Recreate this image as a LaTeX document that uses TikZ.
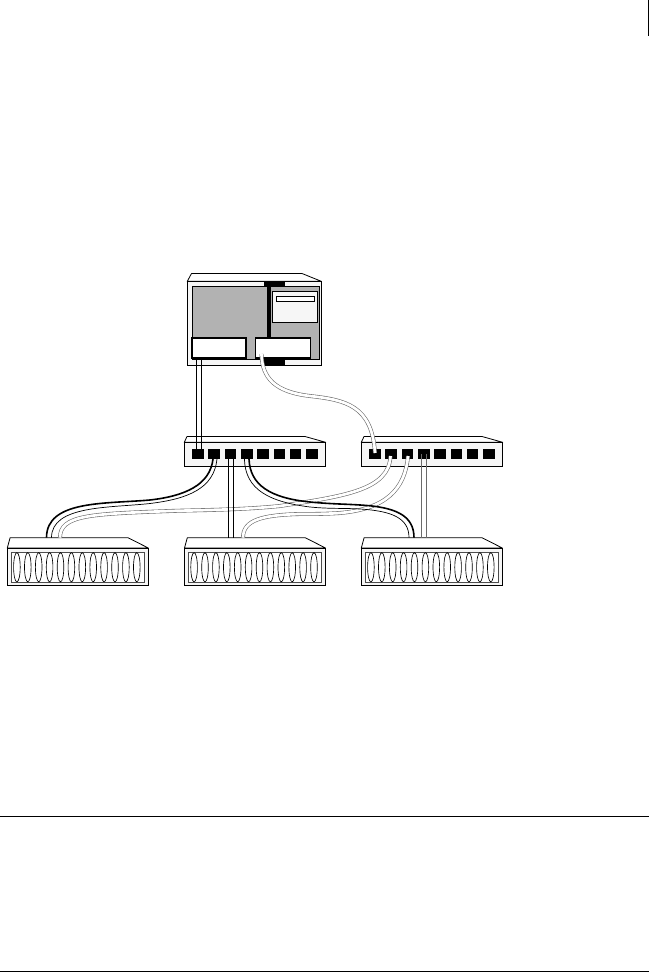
\documentclass[tikz,border=0pt]{standalone}
\definecolor{face}{gray}{0.965}
\definecolor{panel}{gray}{0.70}
\definecolor{cablegray}{gray}{0.42}
\tikzset{
  devicebox/.style={draw=black,fill=face,line width=0.8pt,rectangle,inner sep=0pt,outer sep=0pt,anchor=north west},
  blackbox/.style={fill=black,draw=none,rectangle,inner sep=0pt,outer sep=0pt,anchor=north west},
  whitebox/.style={draw=black,fill=white,line width=1.6pt,rectangle,inner sep=0pt,outer sep=0pt,anchor=north west},
  lid/.style={draw=black,fill=white,line width=0.8pt,line join=round},
  thinblack/.style={draw=black,line width=0.7pt},
  thickblack/.style={draw=black,line width=1.6pt},
  graycable/.style={draw=cablegray,line width=0.6pt,double=white,double distance=2.7pt},
  graypair/.style={draw=cablegray,line width=0.7pt},
  rule/.style={draw=black,line width=0.7pt}
}
% switch: name, left x, top y of the face
\newcommand{\myswitch}[3]{%
  \draw[lid] (#2,#3) -- (#2+2.7,#3-5.8) -- (#2+120.7,#3-5.8) -- (#2+141.4,#3) -- cycle;
  \node[devicebox,minimum width=141.4pt,minimum height=24pt] (#1) at (#2,#3) {};
  \foreach \n/\a/\b in {1/7.7/12,2/23.7/12,3/40.7/11,4/56.7/12,5/72.7/12,6/89.7/11,7/105.7/11,8/121.7/12}
    \node[blackbox,minimum width=\b pt,minimum height=10pt] (#1p\n) at (#2+\a,#3+6.7) {};
}
% disk array: name, left x, top y of the face
\newcommand{\myarray}[3]{%
  \draw[lid] (#2,#3) -- (#2+2.8,#3-10.3) -- (#2+120.7,#3-10.3) -- (#2+141,#3) -- cycle;
  \node[devicebox,fill=face,minimum width=141pt,minimum height=37pt] (#1) at (#2,#3) {};
  \draw[black!70,fill=white,line width=0.5pt] (#2+4.2,#3+4.5) rectangle (#2+136.5,#3+34);
  \foreach \i in {0,...,11}{
    \pgfmathsetmacro{\xa}{#2+9.6+10.9*\i}
    \draw[black,line width=0.65pt] (\xa,#3+19.25) ellipse [x radius=3.3,y radius=14.6];
  }
}
\begin{document}
\begin{tikzpicture}[x=1pt,y=-1pt]
\useasboundingbox (0,0) rectangle (649,973);
% host
\draw[lid] (187.3,281.3) -- (191.5,273.5) -- (302,273.5) -- (321.3,281.3) -- cycle;
\node[devicebox,minimum width=134pt,minimum height=84pt] (host) at (187.3,281.3) {};
\node[devicebox,fill=panel,line width=0.6pt,minimum width=127pt,minimum height=72.3pt] (panel) at (192.3,286.7) {};
\node[blackbox,minimum width=21pt,minimum height=5.6pt] (topbar) at (264,281.2) {};
\node[blackbox,minimum width=21pt,minimum height=6pt] (botbar) at (264,359) {};
\node[blackbox,minimum width=4pt,minimum height=52pt] (spine) at (267,286) {};
\node[devicebox,minimum width=45.5pt,minimum height=31pt] (card) at (272,291.5) {};
\node[devicebox,fill=white,minimum width=37.7pt,minimum height=5.2pt] (slot) at (276.3,296.3) {};
\node[whitebox,minimum width=54.3pt,minimum height=20.5pt] (hbaa) at (191.7,337.7) {};
\node[whitebox,minimum width=55.2pt,minimum height=20.5pt] (hbab) at (255.3,337.7) {};
% devices
\myswitch{swa}{184.3}{442.3}
\myswitch{swb}{361.3}{442.3}
\myarray{arra}{7.3}{548}
\myarray{arrb}{184.5}{548}
\myarray{arrc}{361.3}{548}
% anchors for cable ends
\coordinate (gA) at (390.5,456);
\coordinate (gB) at (408,456);
\coordinate (gC) at (60,537.7);
\coordinate (gD) at (243,537.7);
% gray cables
\draw[graycable] (gA) .. controls (389,490) and (345,496) .. (280,506) .. controls (240,510) and (200,510) .. (170,511) .. controls (90,514) and (60,515) .. (gC);
\draw[graycable] (gB) .. controls (405,490) and (385,509) .. (340,513) .. controls (325,514) and (315,514) .. (300,514) .. controls (262,515) and (243,520) .. (gD);
\draw[graycable] (261.5,354) .. controls (262,378) and (275,392) .. (310,396) .. controls (345,400) and (372,405) .. (375,453);
\draw[graypair] (421.7,454) -- (421.7,537.7);
\draw[graypair] (426.7,454) -- (426.7,537.7);
% black cables
\draw[thinblack] (196.3,358) -- (196.3,454);
\draw[thinblack] (201.3,358) -- (201.3,454);
\draw[thinblack] (228.3,454) -- (228.3,537.7);
\draw[thinblack] (233.3,454) -- (233.3,537.7);
\draw[thickblack] (213,459) .. controls (210,485) and (185,496) .. (150,500) .. controls (105,504) and (46.5,500) .. (46.5,537.7);
\draw[thinblack] (217,459) .. controls (214,489) and (187,499) .. (150,503.5) .. controls (110,508) and (51.5,505) .. (51.5,537.7);
\draw[thickblack] (249,459) .. controls (250,485) and (270,498) .. (310,502) .. controls (330,504) and (345,504) .. (360,505) .. controls (395,507) and (414,515) .. (414,537.7);
\draw[thinblack] (244.5,459) .. controls (245,490) and (270,502) .. (310,507) .. controls (330,509) and (345,508) .. (360,509) .. controls (392,511) and (409,518) .. (409,537.7);
% page rules
\coordinate (ra) at (0,816.5); \coordinate (rb) at (649,816.5);
\coordinate (rc) at (0,971.5); \coordinate (rd) at (649,971.5);
\coordinate (re) at (648,0); \coordinate (rf) at (648,36);
\draw[rule] (ra) -- (rb);
\draw[rule] (rc) -- (rd);
\draw[rule] (re) -- (rf);
\end{tikzpicture}
\end{document}
